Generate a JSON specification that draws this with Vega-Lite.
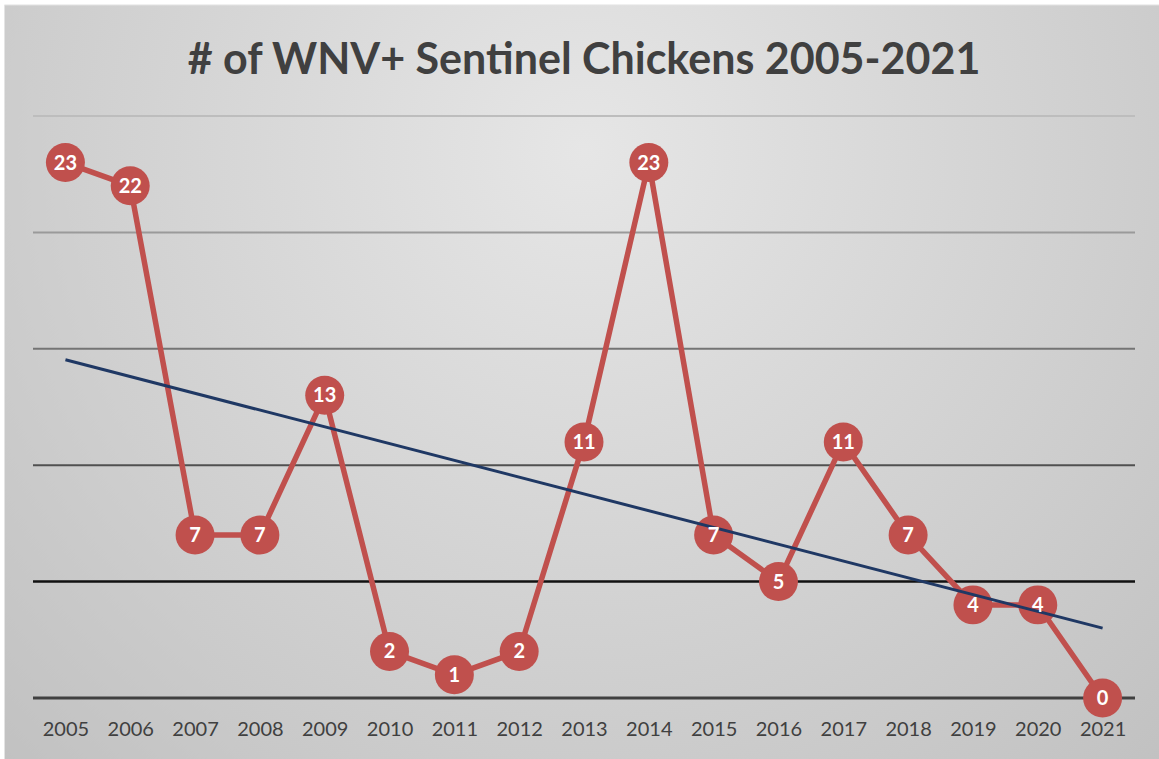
{
  "$schema": "https://vega.github.io/schema/vega-lite/v6.json",
  "width": 1102,
  "height": 582,
  "autosize": {"type": "none"},
  "padding": {"left": 33, "top": 116, "right": 24, "bottom": 61},
  "background": "white",
  "config": {
    "font": "Lato",
    "view": {"stroke": null}
  },
  "title": {"text": "# of WNV+ Sentinel Chickens 2005-2021", "fontSize": 43, "fontWeight": "bold", "color": "#404040", "anchor": "middle", "frame": "group", "offset": -113, "baseline": "alphabetic", "zindex": 1},
  "datasets": {
    "chickens": [
      {"year": 2005, "value": 23},
      {"year": 2006, "value": 22},
      {"year": 2007, "value": 7},
      {"year": 2008, "value": 7},
      {"year": 2009, "value": 13},
      {"year": 2010, "value": 2},
      {"year": 2011, "value": 1},
      {"year": 2012, "value": 2},
      {"year": 2013, "value": 11},
      {"year": 2014, "value": 23},
      {"year": 2015, "value": 7},
      {"year": 2016, "value": 5},
      {"year": 2017, "value": 11},
      {"year": 2018, "value": 7},
      {"year": 2019, "value": 4},
      {"year": 2020, "value": 4},
      {"year": 2021, "value": 0}
    ],
    "one": [{"k": 1}]
  },
  "layer": [
    {
      "data": {"name": "one"},
      "mark": {
        "type": "rect",
        "stroke": "#e4e4e4",
        "strokeWidth": 1,
        "fill": {
          "gradient": "radial",
          "x1": 0.5, "y1": 0.3, "r1": 0,
          "x2": 0.5, "y2": 0.3, "r2": 0.75,
          "stops": [
            {"offset": 0, "color": "#e6e6e6"},
            {"offset": 1, "color": "#c0c0c0"}
          ]
        }
      },
      "encoding": {
        "x": {"datum": 2004.06, "type": "quantitative", "title": null, "scale": {"domain": [2004.5, 2021.5], "nice": false, "zero": false}},
        "x2": {"datum": 2021.95},
        "y": {"datum": 29.77, "type": "quantitative", "axis": null, "scale": {"domain": [0, 25], "nice": false}},
        "y2": {"datum": -2.7}
      }
    },
    {"data": {"name": "one"}, "mark": {"type": "rule", "stroke": "#bdbdbd", "strokeWidth": 2}, "encoding": {"y": {"datum": 25, "type": "quantitative", "axis": null}}},
    {"data": {"name": "one"}, "mark": {"type": "rule", "stroke": "#9a9a9a", "strokeWidth": 2}, "encoding": {"y": {"datum": 20, "type": "quantitative", "axis": null}}},
    {"data": {"name": "one"}, "mark": {"type": "rule", "stroke": "#747474", "strokeWidth": 2}, "encoding": {"y": {"datum": 15, "type": "quantitative", "axis": null}}},
    {"data": {"name": "one"}, "mark": {"type": "rule", "stroke": "#505050", "strokeWidth": 2}, "encoding": {"y": {"datum": 10, "type": "quantitative", "axis": null}}},
    {"data": {"name": "one"}, "mark": {"type": "rule", "stroke": "#111111", "strokeWidth": 2.5}, "encoding": {"y": {"datum": 5, "type": "quantitative", "axis": null}}},
    {"data": {"name": "one"}, "mark": {"type": "rule", "stroke": "#404040", "strokeWidth": 3}, "encoding": {"y": {"datum": 0, "type": "quantitative", "axis": null}}},
    {
      "data": {"name": "chickens"},
      "mark": {"type": "line", "color": "#C0504D", "strokeWidth": 5.5},
      "encoding": {
        "x": {"field": "year", "type": "quantitative", "title": null,
          "axis": {"title": null, "values": [2005,2006,2007,2008,2009,2010,2011,2012,2013,2014,2015,2016,2017,2018,2019,2020,2021], "format": "d", "domain": false, "ticks": false, "grid": false, "labelFontSize": 20, "labelColor": "#404040", "labelPadding": 21, "labelFlush": false, "labelOverlap": false, "zindex": 1}},
        "y": {"field": "value", "type": "quantitative", "axis": null}
      }
    },
    {
      "data": {"name": "chickens"},
      "mark": {"type": "circle", "color": "#C0504D", "opacity": 1, "size": 1520},
      "encoding": {
        "x": {"field": "year", "type": "quantitative", "title": null},
        "y": {"field": "value", "type": "quantitative", "axis": null}
      }
    },
    {
      "data": {"name": "chickens"},
      "transform": [{"regression": "value", "on": "year", "method": "linear"}],
      "mark": {"type": "line", "color": "#1F3864", "strokeWidth": 3},
      "encoding": {
        "x": {"field": "year", "type": "quantitative", "title": null},
        "y": {"field": "value", "type": "quantitative", "axis": null}
      }
    },
    {
      "data": {"name": "chickens"},
      "mark": {"type": "text", "color": "white", "fontSize": 20, "fontWeight": "bold", "align": "center", "baseline": "middle", "dy": 1},
      "encoding": {
        "x": {"field": "year", "type": "quantitative", "title": null},
        "y": {"field": "value", "type": "quantitative", "axis": null},
        "text": {"field": "value", "type": "quantitative"}
      }
    }
  ]
}
